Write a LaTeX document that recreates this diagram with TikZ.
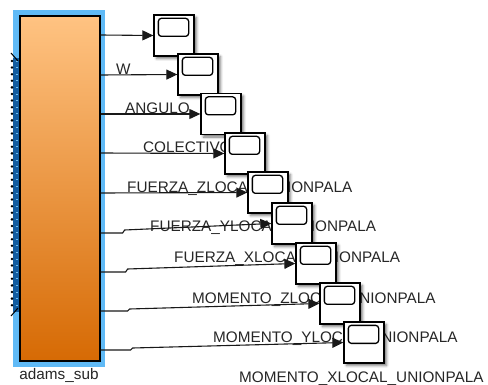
\documentclass[tikz,border=0pt]{standalone}
\usepackage{fontspec}
\setmainfont{Liberation Sans}
\usetikzlibrary{arrows.meta,shadows.blur,calc}
\definecolor{selblue}{RGB}{96,186,246}
\definecolor{orgtop}{RGB}{255,195,130}
\definecolor{orgbot}{RGB}{214,106,4}
\definecolor{portblue}{RGB}{18,92,160}
\definecolor{portlight}{RGB}{110,190,240}
\definecolor{sigcol}{RGB}{25,25,25}
\tikzset{
  scopebox/.style={draw=black, line width=1.3pt, fill=white, minimum width=40pt, minimum height=41pt, inner sep=0pt,
    blur shadow={shadow xshift=2.5pt, shadow yshift=-2.5pt, shadow blur radius=2.5pt, shadow opacity=55}},
  scopescreen/.style={draw=black, line width=1.3pt, rounded corners=3pt},
  sig/.style={draw=sigcol, line width=1.1pt, -{Triangle[length=11pt,width=10pt]}},
  lab/.style={anchor=base west, inner sep=0pt, font=\fontsize{15.3}{18}\selectfont, text=black!85},
}
\begin{document}
\begin{tikzpicture}[x=1pt,y=-1pt]
\useasboundingbox (0,0) rectangle (488,385);
% main block
\node[fill=selblue, minimum width=92pt, minimum height=357pt, inner sep=0pt] (frame) at (59,188.5) {};
\node[draw=black, line width=1.2pt, top color=orgtop, bottom color=orgbot, minimum width=80pt, minimum height=345pt, inner sep=0pt] (blk) at (60,188.5) {};
% physical ports strip
\fill[portblue] (13,58) rectangle (19,312);
\foreach \k in {0,...,37} {
  \draw[portlight, line width=0.8pt] (15.5,{61+6.6*\k}) -- (18,{61+6.6*\k});
  \fill[black] (12,{61+6.6*\k}) circle (1.4pt);
}
\draw[black, line width=1pt] (11,53) -- (18,61);
\draw[black, line width=1pt] (11,316) -- (18,308);
\node[lab, anchor=base, font=\fontsize{15.3}{18}\selectfont] (blkname) at (59,379) {adams\_sub};
% output port coordinates
\coordinate (p0) at (blk.east |- 0,35);
\coordinate (p1) at (blk.east |- 0,75);
\coordinate (p2) at (blk.east |- 0,114);
\coordinate (p3) at (blk.east |- 0,153);
\coordinate (p4) at (blk.east |- 0,193);
\coordinate (p5) at (blk.east |- 0,233);
\coordinate (p6) at (blk.east |- 0,272);
\coordinate (p7) at (blk.east |- 0,311);
\coordinate (p8) at (blk.east |- 0,350);
% scope positions (centres)
\coordinate (c0) at (174,35.5);
\coordinate (c1) at (198,74.5);
\coordinate (c2) at (221,114);
\coordinate (c3) at (245,153.5);
\coordinate (c4) at (268,192.5);
\coordinate (c5) at (292,223.5);
\coordinate (c6) at (316,263.5);
\coordinate (c7) at (340,303.5);
\coordinate (c8) at (364,342.5);
% labels (behind scopes)
\node[lab] (l1) at (116,75) {W};
\node[lab] (l2) at (125,114) {ANGULO};
\node[lab] (l3) at (143,153) {COLECTIVO};
\node[lab] (l4) at (127,193) {FUERZA\_ZLOCAL\_UNIONPALA};
\node[lab] (l5) at (150,232) {FUERZA\_YLOCAL\_UNIONPALA};
\node[lab] (l6) at (174,263) {FUERZA\_XLOCAL\_UNIONPALA};
\node[lab] (l7) at (192,303) {MOMENTO\_ZLOCAL\_UNIONPALA};
\node[lab] (l8) at (213,342) {MOMENTO\_YLOCAL\_UNIONPALA};
\node[lab] (l9) at (239,382) {MOMENTO\_XLOCAL\_UNIONPALA};
% scopes
\foreach \i in {0,...,8} {
  \node[scopebox] (s\i) at (c\i) {};
  \draw[scopescreen] ([xshift=5pt,yshift=-4pt]s\i.north west) rectangle ([xshift=-6pt,yshift=-22pt]s\i.north east);
}
% signals
\draw[sig] (p0) -- (s0.west);
\draw[sig] (p1) -- (s1.west);
\draw[sig] (p2) -- (s2.west);
\draw[sig] (p3) -- (s3.west);
\draw[sig] (p4) -- (s4.west);
\draw[sig] (p5) -- ++(22,0) -- ++(2,-3) -- (s5.west);
\draw[sig] (p6) -- ++(25,0) -- ++(2,-3) -- (s6.west);
\draw[sig] (p7) -- ++(27,0) -- ++(2,-2) -- (s7.west);
\draw[sig] (p8) -- ++(30,0) -- ++(2,-2) -- (s8.west);
\end{tikzpicture}
\end{document}
